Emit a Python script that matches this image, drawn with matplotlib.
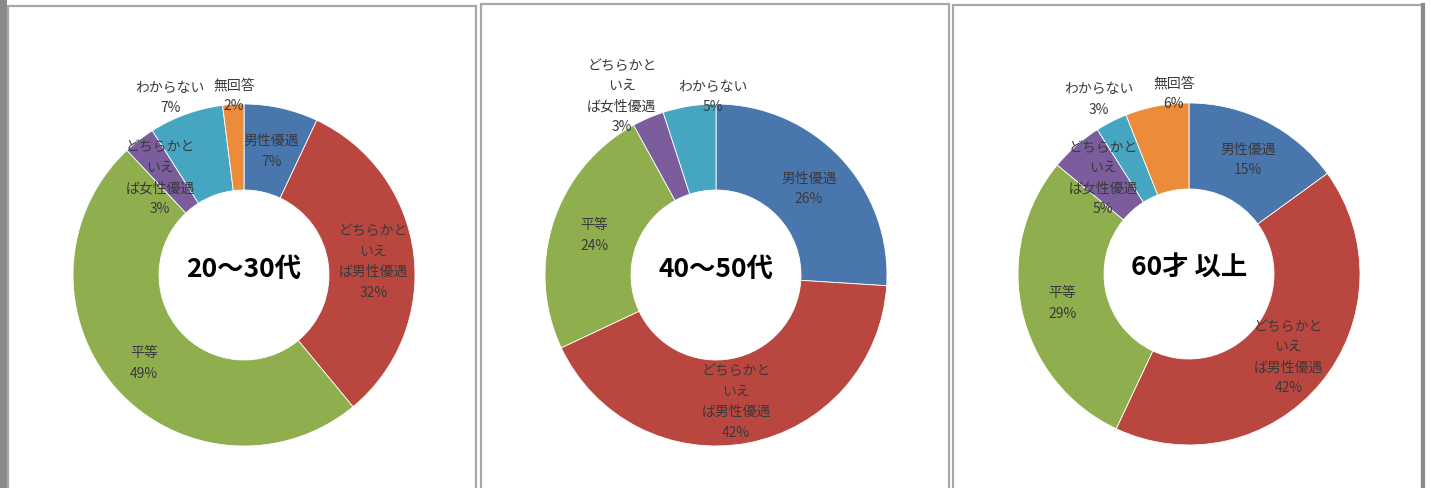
import matplotlib
matplotlib.use("Agg")
import matplotlib.pyplot as plt
from matplotlib.patches import Rectangle
import numpy as np

plt.rcParams["font.family"] = ["Noto Sans CJK JP", "DejaVu Sans"]

# ── data ────────────────────────────────────────────────────────────────
CATEGORIES = [
    "男性優遇",
    "どちらかと\nいえ\nば男性優遇",
    "平等",
    "どちらかと\nいえ\nば女性優遇",
    "わからない",
    "無回答",
]
TITLES = ["20～30代", "40～50代", "60才 以上"]
VALUES_20_30 = [7, 32, 49, 3, 7, 2]
VALUES_40_50 = [26, 42, 24, 3, 5, 0]
VALUES_60_UP = [15, 42, 29, 5, 3, 6]

# ── style / layout ──────────────────────────────────────────────────────
COLORS = ["#4a76ae", "#b9473f", "#8fae4e", "#7b5d9e", "#46a6c2", "#ec8c3a"]
W, H = 1431, 488
R = 171          # outer radius (px)
RING = 86        # ring width (px)
CENTERS = [(244, 275), (716, 275), (1189, 274)]   # image coords
# per-slice label placement: (radius factor, angle shift in deg)
LABEL_POS = [
    [(0.74, 0), (0.76, -1.4), (0.78, 0), (0.75, 3), (1.12, 2.8), (1.05, -0.4)],
    [(0.74, -0.4), (0.75, -1.8), (0.75, 0), (1.18, 4.4), (1.04, -8), (1.0, 0)],
    [(0.75, -0.4), (0.76, -0.4), (0.76, 0.4), (0.75, 0.5), (1.15, 0.3), (1.06, -6)],
]
# panel frames (x0, y_top, x1) in image coords
FRAMES = [(8, 6, 476), (481, 4, 949), (953, 5, 1422)]

fig = plt.figure(figsize=(W / 100, H / 100), dpi=100)
ax = fig.add_axes([0, 0, 1, 1])

# grey strip on the left and the panel frames
ax.add_patch(Rectangle((0, 0), 7, H, facecolor="#8a8a8a", edgecolor="none", zorder=0))
for x0, yt, x1 in FRAMES:
    ax.add_patch(Rectangle((x0, -5), x1 - x0, H - yt + 5, facecolor="white",
                           edgecolor="#a8a8a8", linewidth=1.6, zorder=0))
ax.plot([1423, 1423], [0, H - 5], color="#8a8a8a", linewidth=3, zorder=0)

for values, title, (cx, cy), lpos in zip(
    [VALUES_20_30, VALUES_40_50, VALUES_60_UP], TITLES, CENTERS, LABEL_POS
):
    keep = [i for i, v in enumerate(values) if v > 0]
    vals = [values[i] for i in keep]
    cols = [COLORS[i] for i in keep]
    yc = H - cy
    wedges, _ = ax.pie(
        vals,
        colors=cols,
        startangle=90,
        counterclock=False,
        radius=R,
        center=(cx, yc),
        wedgeprops=dict(width=RING, edgecolor="white", linewidth=0.6),
    )
    for w, i in zip(wedges, keep):
        rf, sh = lpos[i]
        ang = np.deg2rad((w.theta1 + w.theta2) / 2 + sh)
        ax.text(
            cx + rf * R * np.cos(ang),
            yc + rf * R * np.sin(ang),
            f"{CATEGORIES[i]}\n{values[i]}%",
            ha="center",
            va="center",
            multialignment="center",
            fontsize=10,
            color="#3a3a3a",
            linespacing=1.6,
            zorder=5,
        )
    ax.text(cx, yc + 6, title, ha="center", va="center", fontsize=19,
            fontweight="bold", color="black", zorder=5)

ax.set_xlim(0, W)
ax.set_ylim(0, H)
ax.set_aspect("auto")
ax.axis("off")

fig.savefig("out.png", dpi=100, facecolor="white")
